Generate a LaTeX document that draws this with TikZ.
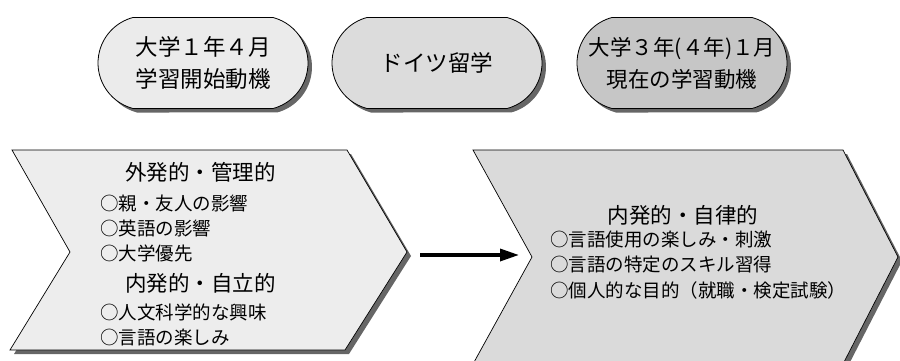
\documentclass[tikz,border=0pt]{standalone}
\usepackage{fontspec}
\setmainfont{Noto Sans CJK JP}
\usetikzlibrary{shapes.misc,shadows,arrows.meta}
\definecolor{sone}{HTML}{EBEBEB}
\definecolor{stwo}{HTML}{DCDCDC}
\definecolor{sthree}{HTML}{C6C6C6}
\definecolor{cleft}{HTML}{EDEDED}
\definecolor{cright}{HTML}{DADADA}
\definecolor{shadowc}{HTML}{666666}
\tikzset{
  stadium/.style={rounded rectangle, rounded rectangle arc length=150, draw=black, line width=0.8pt,
    minimum width=210pt, minimum height=91pt, inner sep=0pt, align=center,
    font=\fontsize{22.5}{32}\selectfont,
    drop shadow={shadow xshift=4pt, shadow yshift=-4pt, fill=shadowc, opacity=1}},
  chev/.style={draw=black, line width=0.7pt},
  chevshadow/.style={fill=shadowc},
  heading/.style={font=\fontsize{21.5}{24}\selectfont, inner sep=0pt},
  item/.style={font=\fontsize{18.5}{20}\selectfont, anchor=west, inner sep=0pt},
  flow/.style={line width=3.3pt, -{Triangle[length=19pt,width=12pt]}}
}
\begin{document}
\begin{tikzpicture}[x=1pt,y=1pt]
\useasboundingbox (0,0) rectangle (900,360);
% top stadiums
\node[stadium, fill=sone] (s1) at (203,297) {大学１年４月\\学習開始動機};
\node[stadium, fill=stwo] (s2) at (437,297) {ドイツ留学};
\node[stadium, fill=sthree, font=\fontsize{21.5}{32}\selectfont] (s3) at (682,297) {大学３年(４年)１月\\現在の学習動機};
% left chevron
\fill[chevshadow, shift={(4,-4)}] (12,210) -- (347,210) -- (407,108) -- (345,10) -- (10,10) -- (70,108) -- cycle;
\filldraw[chev, fill=cleft] (12,210) -- (347,210) -- (407,108) -- (345,10) -- (10,10) -- (70,108) -- cycle;
% right chevron
\fill[chevshadow, shift={(4,-4)}] (473,210) -- (843,210) -- (898,103) -- (843,-4) -- (473,-4) -- (532,103) -- cycle;
\filldraw[chev, fill=cright] (473,210) -- (843,210) -- (898,103) -- (843,-4) -- (473,-4) -- (532,103) -- cycle;
% texts left
\node[heading] (h1) at (200.5,188) {外発的・管理的};
\node[item] (i1) at (100,157) {○親・友人の影響};
\node[item] (i2) at (100,132) {○英語の影響};
\node[item] (i3) at (100,107) {○大学優先};
\node[heading] (h2) at (200.5,77) {内発的・自立的};
\node[item] (i4) at (100,48) {○人文科学的な興味};
\node[item] (i5) at (100,23) {○言語の楽しみ};
% texts right
\node[heading] (h3) at (683,145) {内発的・自律的};
\node[item] (j1) at (550,120) {○言語使用の楽しみ・刺激};
\node[item] (j2) at (550,95) {○言語の特定のスキル習得};
\node[item] (j3) at (550,70) {○個人的な目的（就職・検定試験）};
% arrow
\coordinate (a0) at (420,105);
\coordinate (a1) at (519,105);
\draw[flow] (a0) -- (a1);
\end{tikzpicture}
\end{document}
